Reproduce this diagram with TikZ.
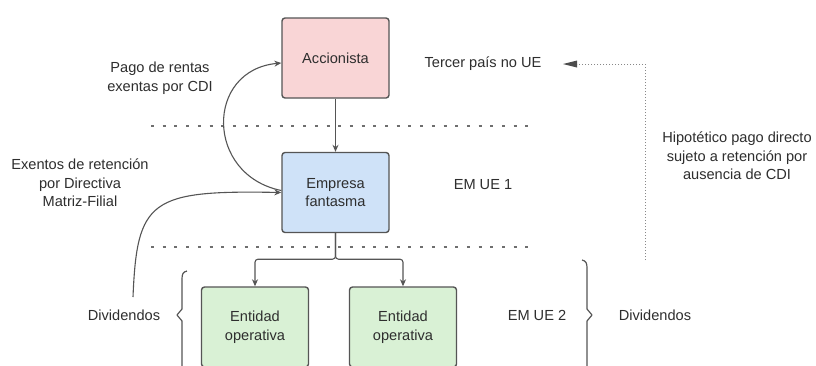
\documentclass[tikz,border=0pt]{standalone}
\usepackage{fontspec}
\setmainfont{Liberation Sans}
\usetikzlibrary{arrows.meta}
\definecolor{edge}{HTML}{555555}
\definecolor{ink}{HTML}{2E2E2E}
\definecolor{pinkfill}{HTML}{F9D5D6}
\definecolor{bluefill}{HTML}{CFE2F8}
\definecolor{greenfill}{HTML}{D9F1D5}
\tikzset{
	entity/.style={draw=edge, line width=1.4pt, rounded corners=3pt, minimum width=107pt, minimum height=80pt, align=center, text=ink},
	label/.style={align=center, text=ink, inner sep=1pt},
	border/.style={draw=edge!85, line width=2.2pt, dash pattern=on 3pt off 8.7pt},
	flow/.style={draw=edge, line width=1.1pt, rounded corners=3pt, -{Stealth[length=7pt,width=6pt]}}
}
\begin{document}
\begin{tikzpicture}[x=1pt, y=-1pt, font=\fontsize{14.6}{18.5}\selectfont]
		\clip (0,0) rectangle (816,365);
		\fill[white] (0,0) rectangle (816,365);
		% boxes
		\node[entity, fill=pinkfill] (accionista) at (335.5,58) {Accionista};
		\node[entity, fill=bluefill] (empresa) at (335.5,192.5) {Empresa\\fantasma};
		\node[entity, fill=greenfill] (ent1) at (255,327) {Entidad\\operativa};
		\node[entity, fill=greenfill] (ent2) at (403,327) {Entidad\\operativa};
		
		% borders between countries
		\draw[border] (151,126) -- (532,126);
		\draw[border] (151,247) -- (532,247);
		
		% labels
		\node[label] (tercer) at (483,64) {Tercer país no UE};
		\node[label] (emue1) at (483,185) {EM UE 1};
		\node[label] (emue2) at (537,315) {EM UE 2};
		\node[label] (divL) at (124,315) {Dividendos};
		\node[label] (divR) at (655,315) {Dividendos};
		\node[label] (pago) at (160,78) {Pago de rentas\\exentas por CDI};
		\node[label] (exentos) at (80,183) {Exentos de retención\\por Directiva\\Matriz-Filial};
		\node[label] (hipo) at (737,156) {Hipotético pago directo\\sujeto a retención por\\ausencia de CDI};
		
		% flows
		\draw[flow] (accionista) -- (empresa);
		\draw[flow] (empresa.south) -- ++(0,26) -| (ent1.north);
		\draw[flow] (empresa.south) -- ++(0,26) -| (ent2.north);
		\draw[flow] ([yshift=2pt]empresa.west) .. controls (205,175) and (205,70) .. ([yshift=-5pt]accionista.west);
		\coordinate (divtail) at (133,297);
		\draw[flow] (divtail) .. controls (137,200) and (150,190) .. (empresa.west);
		
		% hypothetical direct payment
		\coordinate (hipofoot) at (645,260);
		\coordinate (hipotip) at (563,64);
		\draw[edge!70, line width=1pt, dash pattern=on 1pt off 2pt] (hipofoot) |- ([xshift=14pt]hipotip);
		\fill[edge!90!black] (hipotip) -- ++(14,-3.5) -- ++(0,7) -- cycle;
		
		% braces
		\draw[edge, line width=1.2pt, line join=round] (187,271) .. controls (183,272) and (182,274) .. (182,279) -- (182,309) -- (177,315) -- (182,321) -- (182,372);
		\draw[edge, line width=1.2pt, line join=round] (582,260) .. controls (586,261) and (587,263) .. (587,268) -- (587,309) -- (592,315) -- (587,321) -- (587,372);
	\end{tikzpicture}
\end{document}
